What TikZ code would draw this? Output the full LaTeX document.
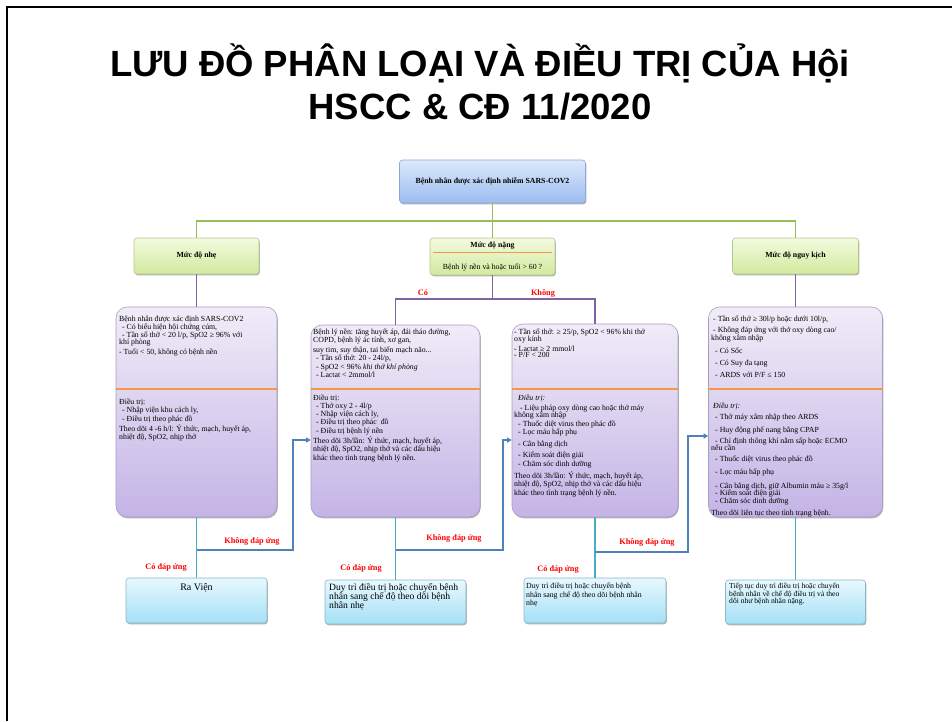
\documentclass[tikz,border=0pt]{standalone}
\usepackage{fontspec}
\setmainfont{Liberation Serif}
\newfontfamily\titlefont{Liberation Sans}
\usetikzlibrary{arrows.meta,shadows}
\definecolor{glinec}{HTML}{9BBB59}
\definecolor{plinec}{HTML}{8064A2}
\definecolor{tlinec}{HTML}{4BACC6}
\definecolor{blinec}{HTML}{4F81BD}
\definecolor{olinec}{HTML}{F79646}
\definecolor{redlab}{HTML}{FF0000}
\definecolor{startT}{HTML}{DCE8FB}
\definecolor{startB}{HTML}{9CBDF1}
\definecolor{startD}{HTML}{8FA9D6}
\definecolor{grT}{HTML}{F3FADF}
\definecolor{grB}{HTML}{D2EA9E}
\definecolor{grD}{HTML}{B4C88E}
\definecolor{puT}{HTML}{F0ECF8}
\definecolor{puB}{HTML}{C4B4E6}
\definecolor{puD}{HTML}{A99CC4}
\definecolor{cyT}{HTML}{E8F8FE}
\definecolor{cyB}{HTML}{A4E0F6}
\definecolor{cyD}{HTML}{8CB7C8}
\begin{document}
\begin{tikzpicture}[x=1pt,y=-1pt,
  shad/.style={drop shadow={shadow xshift=0.8pt,shadow yshift=-1.3pt,opacity=0.3,fill=black}},
  titlest/.style={font=\titlefont\bfseries\fontsize{36.5}{40}\selectfont, anchor=base, inner sep=0pt},
  startbox/.style={draw=startD, line width=0.6pt, rounded corners=3pt, top color=startT, bottom color=startB, shad, inner sep=0pt, font=\bfseries\fontsize{7.8}{9}\selectfont},
  levelbox/.style={draw=grD, line width=0.6pt, rounded corners=3pt, top color=grT, bottom color=grB, shad, inner sep=0pt, font=\bfseries\fontsize{7.8}{9}\selectfont, minimum width=125pt, minimum height=36pt},
  purplebox/.style={draw=puD, line width=0.6pt, rounded corners=11pt, top color=puT, bottom color=puB, shad, inner sep=0pt},
  resbox/.style={draw=cyD, line width=0.6pt, rounded corners=3pt, top color=cyT, bottom color=cyB, shad, inner sep=0pt, minimum width=141pt, minimum height=45pt},
  bodytext/.style={anchor=north west, inner sep=0pt, align=left, font=\fontsize{7.8}{6.6}\selectfont},
  labred/.style={text=redlab, font=\bfseries\fontsize{8.3}{9}\selectfont, inner sep=0pt},
  glink/.style={draw=glinec, line width=1.4pt},
  plink/.style={draw=plinec, line width=1.4pt},
  tlink/.style={draw=tlinec, line width=1.8pt},
  blink/.style={draw=blinec, line width=1.8pt, -{Triangle[length=4.5pt,width=5pt]}},
  divider/.style={draw=olinec, line width=1.5pt}
]
\useasboundingbox (0,0) rectangle (952,721);
% slide frame
\draw[line width=2pt] (7,721) -- (7,7) -- (952,7);

% title
\node[titlest] (title1) at (480,76) {LƯU ĐỒ PHÂN LOẠI VÀ ĐIỀU TRỊ CỦA Hội};
\node[titlest] (title2) at (480,119) {HSCC \& CĐ 11/2020};

% top boxes
\node[startbox, minimum width=186pt, minimum height=43pt] (start) at (492.5,181.5) {Bệnh nhân được xác định nhiễm SARS-COV2};
\node[levelbox] (mild) at (196.5,256) {Mức độ nhẹ};
\node[levelbox, minimum height=37pt] (sev) at (492.5,256.5) {};
\node[levelbox, minimum width=126pt] (crit) at (795.5,256) {Mức độ nguy kịch};
\node[font=\bfseries\fontsize{7.8}{9}\selectfont, inner sep=0pt] (sevt1) at (492.5,246) {Mức độ nặng};
\node[font=\fontsize{7.8}{9}\selectfont, inner sep=0pt] (sevt2) at (492.5,268) {Bệnh lý nền và hoặc tuổi > 60 ?};
\coordinate (sevd) at (0,252.5);
\draw[divider, shorten >=3pt, shorten <=3pt] (sev.west |- sevd) -- (sev.east |- sevd);

% purple boxes
\node[purplebox, minimum width=161pt, minimum height=210pt] (b1) at (196.5,412) {};
\node[purplebox, minimum width=169pt, minimum height=192pt] (b2) at (395.5,421) {};
\node[purplebox, minimum width=166pt, minimum height=193pt] (b3) at (595,420.5) {};
\node[purplebox, minimum width=174pt, minimum height=210pt] (b4) at (795.5,412) {};
\coordinate (dv) at (0,389);
\draw[divider] (b1.west |- dv) -- (b1.east |- dv);
\draw[divider] (b2.west |- dv) -- (b2.east |- dv);
\draw[divider] (b3.west |- dv) -- (b3.east |- dv);
\draw[divider] (b4.west |- dv) -- (b4.east |- dv);

% result boxes
\node[resbox] (r1) at (196.5,600.5) {};
\node[resbox, minimum height=44pt] (r2) at (395.5,602) {};
\node[resbox, minimum width=142pt] (r3) at (595,600.5) {};
\node[resbox, minimum width=140pt, minimum height=44pt] (r4) at (795.5,602) {};

% box 1 texts
\node[bodytext] (b1u) at (119,315.5) {Bệnh nhân được xác định SARS-COV2\\[0.4pt]
\hspace*{3pt}- Có biểu hiện hội chứng cúm,\\[-0.6pt]
\hspace*{3pt}- Tần số thở < 20 l/p, SpO2 ≥ 96\% với\\[-0.6pt]
khí phòng\\[1.4pt]
- Tuổi < 50, không có bệnh nền};
\node[bodytext] (b1l) at (119,398.5) {Điều trị:\\
\hspace*{3pt}- Nhập viện khu cách ly,\\[1.4pt]
\hspace*{3pt}- Điều trị theo phác đồ\\[0.4pt]
Theo dõi 4 -6 h/l: Ý thức, mạch, huyết áp,\\
nhiệt độ, SpO2, nhịp thở};

% box 2 texts
\node[bodytext] (b2u) at (313,328.5) {Bệnh lý nền: tăng huyết áp, đái tháo đường,\\[0.4pt]
COPD, bệnh lý ác tính, xơ gan,\\[1.4pt]
suy tim, suy thận, tai biến mạch não...\\
\hspace*{3pt}- Tần số thở: 20 - 24l/p,\\
\hspace*{3pt}- SpO2 < 96\% \textit{khi thở khí phòng}\\
\hspace*{3pt}- Lactat < 2mmol/l};
\node[bodytext] (b2l) at (313,394.5) {Điều trị:\\
\hspace*{3pt}- Thở oxy 2 - 4l/p\\
\hspace*{3pt}- Nhập viện cách ly,\\[0.4pt]
\hspace*{3pt}- Điều trị theo phác \ đồ\\[0.4pt]
\hspace*{3pt}- Điều trị bệnh lý nền\\[0.4pt]
Theo dõi 3h/lần: Ý thức, mạch, huyết áp,\\
nhiệt độ, SpO2, nhịp thở và các dấu hiệu\\
khác theo tình trạng bệnh lý nền.};

% box 3 texts
\node[bodytext] (b3u) at (514,328.5) {- Tần số thở: ≥ 25/p, SpO2 < 96\% khi thở\\[-0.6pt]
oxy kính\\[1.4pt]
- Lactat ≥ 2 mmol/l\\
- P/F < 200};
\node[bodytext] (b3l) at (514,394.5) {\hspace*{4pt}\textit{Điều trị:}\\[2.4pt]
\hspace*{6pt}- Liệu pháp oxy dòng cao hoặc thở máy\\[-0.6pt]
không xâm nhập\\[0.4pt]
\hspace*{4pt}- Thuốc diệt virus theo phác đồ\\[-0.6pt]
\hspace*{4pt}- Lọc máu hấp phụ\\[3.4pt]
\hspace*{4pt}- Cân bằng dịch\\[3.4pt]
\hspace*{4pt}- Kiểm soát điện giải\\[0.4pt]
\hspace*{4pt}- Chăm sóc dinh dưỡng\\[2.4pt]
Theo dõi 3h/lần: Ý thức, mạch, huyết áp,\\[0.4pt]
nhiệt độ, SpO2, nhịp thở và các dấu hiệu\\[0.4pt]
khác theo tình trạng bệnh lý nền.};

% box 4 texts
\node[bodytext] (b4u) at (711,315.5) {\hspace*{2pt}- Tần số thở ≥ 30l/p hoặc dưới 10l/p,\\[3.4pt]
\hspace*{2pt}- Không đáp ứng với thở oxy dòng cao/\\[-0.6pt]
không xâm nhập\\[4.4pt]
\hspace*{4pt}- Có Sốc\\[5.4pt]
\hspace*{4pt}- Có Suy đa tạng\\[4.4pt]
\hspace*{4pt}- ARDS với P/F ≤ 150};
\node[bodytext] (b4l) at (711,402.5) {\hspace*{2pt}\textit{Điều trị:}\\[3.4pt]
\hspace*{4pt}- Thở máy xâm nhập theo ARDS\\[4.4pt]
\hspace*{4pt}- Huy động phế nang bằng CPAP\\[3.4pt]
\hspace*{4pt}- Chỉ định thông khí nằm sấp hoặc ECMO\\[-1.6pt]
nếu cần\\[4.4pt]
\hspace*{4pt}- Thuốc diệt virus theo phác đồ\\[4.4pt]
\hspace*{4pt}- Lọc máu hấp phụ\\[5.4pt]
\hspace*{4pt}- Cân bằng dịch, giữ Albumin máu ≥ 35g/l\\[-0.6pt]
\hspace*{4pt}- Kiểm soát điện giải\\[-0.6pt]
\hspace*{4pt}- Chăm sóc dinh dưỡng\\[4.4pt]
Theo dõi liên tục theo tình trạng bệnh.};

% result texts
\node[font=\fontsize{10}{11}\selectfont, inner sep=0pt] (r1t) at (196.5,588) {Ra Viện};
\node[bodytext, font=\fontsize{9.6}{9.4}\selectfont] (r2t) at (329,583) {Duy trì điều trị hoặc chuyển bệnh\\nhân sang chế độ theo dõi bệnh\\nhân nhẹ};
\node[bodytext, font=\fontsize{7.8}{7}\selectfont] (r3t) at (526,583) {Duy trì điều trị hoặc chuyển bệnh\\nhân sang chế độ theo dõi bệnh nhân\\nhẹ};
\node[bodytext, font=\fontsize{7.6}{7}\selectfont] (r4t) at (729,583) {Tiếp tục duy trì điều trị hoặc chuyển\\bệnh nhân về chế độ điều trị và theo\\dõi như bệnh nhân nặng.};

% connectors
\coordinate (gbus) at (492.5,221);
\coordinate (mbus) at (492.5,299);
\draw[glink] (start.south) -- (gbus);
\draw[glink] (mild.north) |- (gbus) -| (crit.north);
\draw[glink] (gbus) -- (sev.north);
\draw[plink] (mild.south) -- (b1.north);
\draw[plink] (crit.south) -- (b4.north);
\draw[plink] (sev.south) -- (mbus);
\draw[plink] (b2.north) |- (mbus) -| (b3.north);
\draw[tlink] (b1.south) -- (r1.north);
\draw[tlink] (b2.south) -- (r2.north);
\draw[tlink] (b3.south) -- (r3.north);
\draw[tlink] (b4.south) -- (r4.north);

\coordinate (k1) at (196.5,550);
\coordinate (kv1) at (293,440);
\coordinate (a2) at (b2.west |- kv1);
\draw[blink] (k1) -| (kv1) -- (a2);
\coordinate (k2) at (395.5,550);
\coordinate (kv2) at (503,440);
\coordinate (a3) at (b3.west |- kv2);
\draw[blink] (k2) -| (kv2) -- (a3);
\coordinate (k3) at (595,552);
\coordinate (kv3) at (688,436);
\coordinate (a4) at (b4.west |- kv3);
\draw[blink] (k3) -| (kv3) -- (a4);

% labels
\node[labred] (kd1) at (252,541) {Không đáp ứng};
\node[labred] (cd1) at (166,568) {Có đáp ứng};
\node[labred] (kd2) at (454,538) {Không đáp ứng};
\node[labred] (cd2) at (361,569) {Có đáp ứng};
\node[labred] (kd3) at (647,542) {Không đáp ứng};
\node[labred] (cd3) at (558,570) {Có đáp ứng};
\node[labred] (co) at (423,293) {Có};
\node[labred] (khong) at (543,293) {Không};
\end{tikzpicture}
\end{document}
